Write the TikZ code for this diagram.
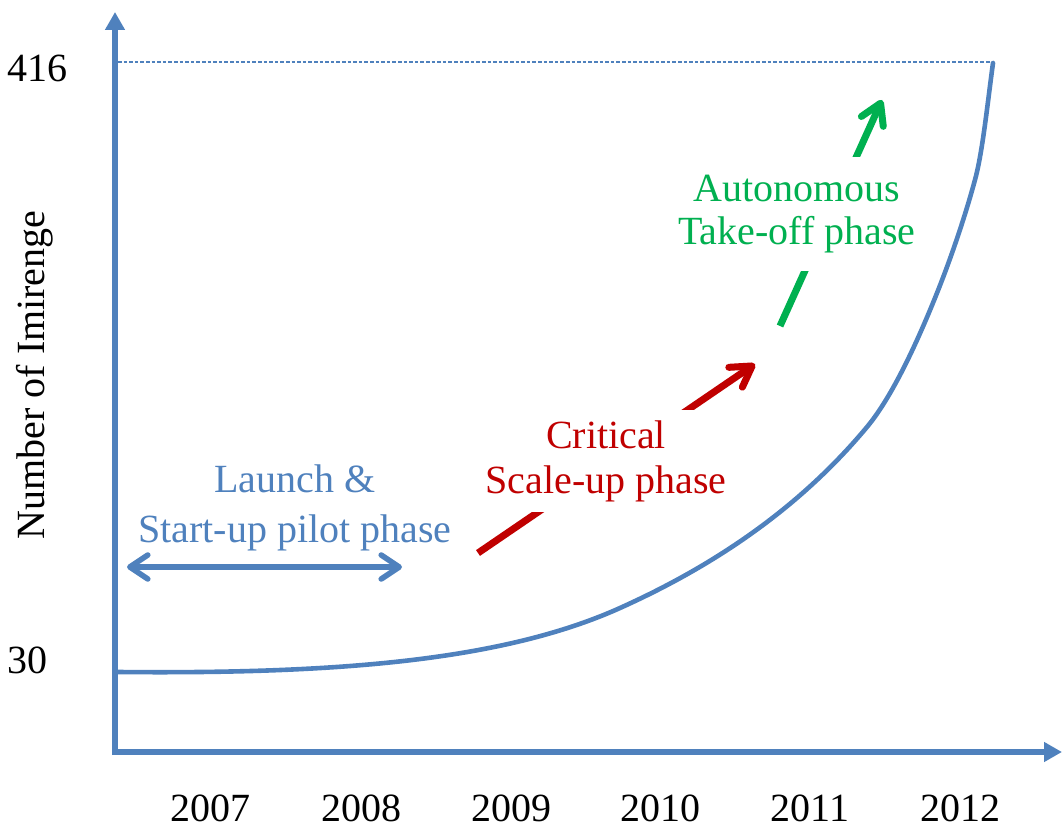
\documentclass[tikz,border=0pt]{standalone}
\usepackage{fontspec}
\setmainfont{Liberation Serif}
\usetikzlibrary{arrows.meta}
\definecolor{cblue}{HTML}{4F81BD}
\definecolor{cred}{HTML}{C00000}
\definecolor{cgreen}{HTML}{00B050}
\tikzset{
  axisline/.style={draw=cblue, line width=3pt, -{Triangle[length=9pt,width=9.5pt]}},
  growth/.style={draw=cblue, line width=2.3pt, line cap=round},
  guide/.style={draw=cblue, line width=0.65pt, dash pattern=on 1.8pt off 1pt},
  phasearrow/.style={line width=3.5pt, line cap=butt, -{Straight Barb[length=10pt,width=12pt,round]}},
  dblarrow/.style={draw=cblue, line width=2.8pt, {Straight Barb[length=9pt,width=12pt,round]}-{Straight Barb[length=9pt,width=12pt,round]}},
  lbl/.style={font=\fontsize{20}{24}\selectfont, inner sep=0pt},
  phaselbl/.style={align=center, fill=white, inner xsep=4pt, inner ysep=5pt}
}
\begin{document}
\begin{tikzpicture}[x=0.5pt,y=-0.5pt]
\useasboundingbox (0,0) rectangle (1062,829);
% axes
\coordinate (ytip) at (115,12);
\coordinate (xtip) at (1062,752);
\coordinate (ybot) at (115,755);
\coordinate (xleft) at (112,752);
\draw[axisline] (ybot) -- (ytip);
\draw[axisline] (xleft) -- (xtip);
% guide line
\coordinate (g1) at (118,62);
\coordinate (g2) at (993,62);
\draw[guide] (g1) -- (g2);
% growth curve
\draw[growth] (118,672) .. controls (330,674) and (500,662) .. (620,608)
  .. controls (710,567.5) and (797,511) .. (867,427)
  .. controls (892,397) and (917,343) .. (937,293)
  .. controls (951,258) and (966,214) .. (976,176)
  .. controls (983,148) and (988,99.5) .. (993,63);
% tick labels
\node[lbl, anchor=base] (v416) at (38,82) {416};
\node[lbl, anchor=base] (v30) at (28,673) {30};
\node[lbl, anchor=base] (y07) at (210,821) {2007};
\node[lbl, anchor=base] (y08) at (361,821) {2008};
\node[lbl, anchor=base] (y09) at (511,821) {2009};
\node[lbl, anchor=base] (y10) at (660,821) {2010};
\node[lbl, anchor=base] (y11) at (810,821) {2011};
\node[lbl, anchor=base] (y12) at (960,821) {2012};
\node[lbl, rotate=90] (ylabel) at (35,375) {Number of Imirenge};
% launch phase
\coordinate (la) at (127,567);
\coordinate (lb) at (402,567);
\draw[dblarrow] (la) -- (lb);
\node[lbl, align=center, text=cblue, font=\fontsize{20}{25}\selectfont] (launch) at (295,508) {Launch \&\\Start-up pilot phase};
% critical phase
\coordinate (ra) at (478,553);
\coordinate (rb) at (755,364);
\draw[phasearrow, draw=cred] (ra) -- (rb);
\node[lbl, phaselbl, text=cred, font=\fontsize{20}{22.5}\selectfont] (critical) at (606,461) {Critical\\Scale-up phase};
% autonomous phase
\coordinate (ga) at (780,326);
\coordinate (gb) at (882,100);
\draw[phasearrow, draw=cgreen] (ga) -- (gb);
\node[lbl, phaselbl, text=cgreen, font=\fontsize{20}{21.5}\selectfont, inner ysep=9pt] (auto) at (797,214) {Autonomous\\Take-off phase};
\end{tikzpicture}
\end{document}
